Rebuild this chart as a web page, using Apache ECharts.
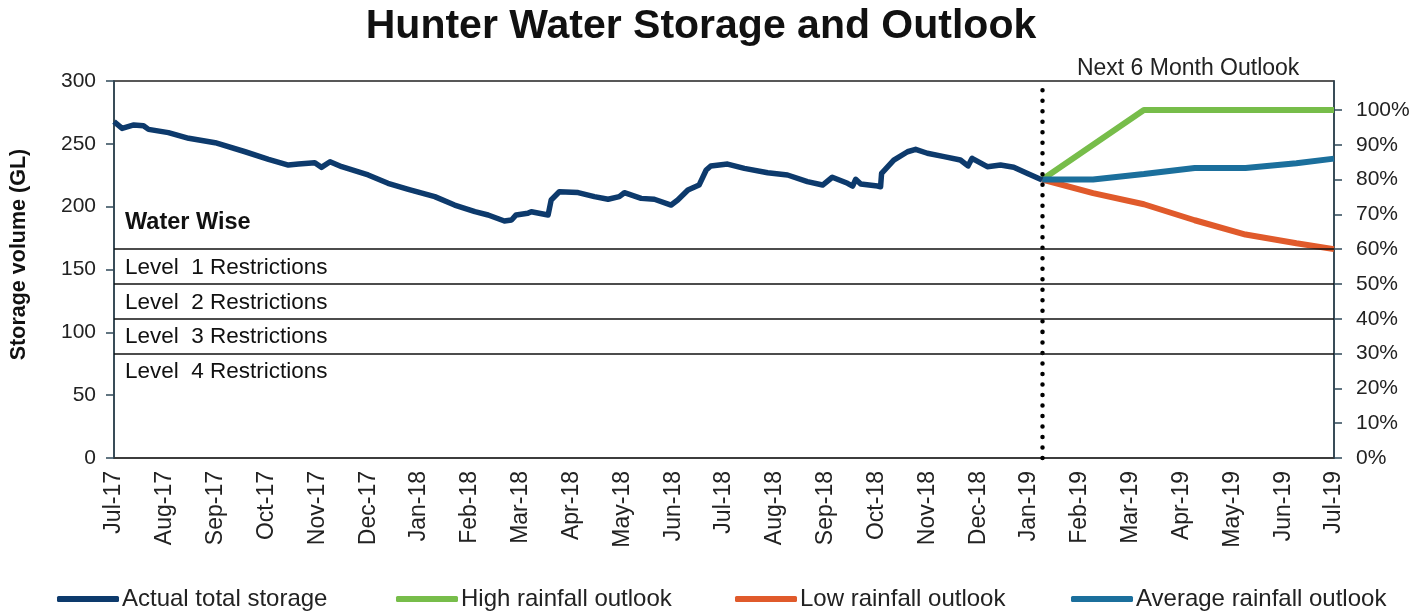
<!DOCTYPE html>
<html>
<head>
<meta charset="utf-8">
<script src="https://cdn.jsdelivr.net/npm/echarts@6/dist/echarts.min.js"></script>
<style>
html,body{margin:0;padding:0;background:#fff;}
#chart{width:1418px;height:612px;}
</style>
</head>
<body>
<div id="chart"></div>
<script>
// ---------- data ----------
const monthLabels = ['Jul-17','Aug-17','Sep-17','Oct-17','Nov-17','Dec-17','Jan-18','Feb-18','Mar-18','Apr-18','May-18','Jun-18',
  'Jul-18','Aug-18','Sep-18','Oct-18','Nov-18','Dec-18','Jan-19','Feb-19','Mar-19','Apr-19','May-19','Jun-19','Jul-19'];

// months elapsed since Jul-17
const actualMonths = [0.00,0.16,0.39,0.58,0.68,1.07,1.47,1.99,2.58,3.04,3.43,3.63,3.95,4.08,4.25,4.48,5.00,5.39,5.79,6.31,
  6.70,7.10,7.36,7.68,7.82,7.91,8.14,8.21,8.54,8.60,8.76,9.13,9.45,9.72,9.94,10.04,10.37,10.63,10.96,11.09,11.29,11.51,11.65,
  11.74,12.07,12.40,12.86,13.25,13.64,13.94,14.13,14.43,14.53,14.59,14.69,15.02,15.08,15.10,15.34,15.61,15.77,16.00,16.33,
  16.65,16.80,16.88,17.18,17.44,17.70,17.96,18.26];
// storage in GL
const actualGL = [267.6,262.3,265.0,264.4,261.5,258.9,254.4,250.9,243.7,237.7,233.1,233.9,235.0,231.3,235.8,231.8,225.2,218.6,213.8,208.0,
  201.3,196.0,193.4,188.6,189.4,193.4,194.7,196.0,193.4,205.3,211.9,211.2,208.0,205.9,208.0,211.1,206.6,205.9,201.3,205.3,213.3,217.2,229.2,
  232.4,233.9,230.5,227.0,225.2,219.9,217.2,223.4,218.6,216.4,221.8,218.0,216.4,215.9,226.5,237.1,243.7,245.6,242.5,239.8,
  237.1,232.4,238.5,231.8,233.1,231.3,226.5,221.2];

const outlookMonths = [18.26,19.26,20.26,21.26,22.26,23.26,24];
const highPct = [80,90,100,100,100,100,100];
const lowPct  = [80,76.1,72.9,68.3,64.2,61.7,60];
const avgPct  = [80,80,81.6,83.3,83.3,84.7,86];

const capacityGL = 277;            // 100% storage
const outlookStart = 18.26;        // Next 6 month outlook start
const levelLines = [60,50,40,30];  // % thresholds
const bandLabels = ['Water Wise','Level  1 Restrictions','Level  2 Restrictions','Level  3 Restrictions','Level  4 Restrictions'];
const bandRanges = [[60,70],[50,60],[40,50],[30,40],[20,30]];
const rightTicks = [0,10,20,30,40,50,60,70,80,90,100];

const seriesNames = ['Actual total storage','High rainfall outlook','Low rainfall outlook','Average rainfall outlook'];
const colors = ['#0d3a6c','#77bd4a','#e05a2b','#1b6f9c'];

// ---------- chart ----------
const FONT = 'Liberation Sans, Arial, sans-serif';
const TXT = '#222';
const chart = echarts.init(document.getElementById('chart'), null, {renderer:'canvas'});

const zip = (xs, ys) => xs.map((x,i)=>[x, ys[i]]);
const pctMax = 300 / capacityGL * 100;
const legendLefts = [52, 391, 730, 1066];

const option = {
  animation:false,
  backgroundColor:'#fff',
  title:{
    text:'Hunter Water Storage and Outlook',
    left:696, top:1, textAlign:'center',
    textStyle:{fontFamily:FONT, fontSize:41, fontWeight:'bold', color:'#111'}
  },
  legend:seriesNames.map((n,i) => ({
    data:[n],
    left:legendLefts[i], top:582,
    icon:'roundRect', itemWidth:62, itemHeight:6, itemGap:0,
    textStyle:{fontFamily:FONT, fontSize:24, color:TXT, padding:[0,0,0,-2]}
  })),
  grid:{left:112, right:84, top:81, bottom:154, show:true, borderColor:'#222', borderWidth:1.5, backgroundColor:'transparent'},
  xAxis:{
    type:'value', min:0, max:24, interval:1,
    axisLine:{show:true, lineStyle:{color:'#333', width:1.5}},
    axisTick:{show:false},
    splitLine:{show:false},
    axisLabel:{rotate:90, margin:13, fontFamily:FONT, fontSize:23, color:TXT,
      formatter:v => monthLabels[v] || ''}
  },
  yAxis:[{
    type:'value', min:0, max:300, interval:50, position:'left',
    name:'Storage volume (GL)', nameLocation:'middle', nameGap:84,
    nameTextStyle:{fontFamily:FONT, fontSize:21.5, fontWeight:'bold', color:'#111', padding:[0,0,0,30]},
    axisLine:{show:true, lineStyle:{color:'#2f4858', width:1.5}},
    axisTick:{show:true, length:8, lineStyle:{color:'#2f4858', width:1.5}},
    splitLine:{show:false},
    axisLabel:{margin:18, fontFamily:FONT, fontSize:21, color:TXT}
  },{
    type:'value', min:0, max:pctMax, interval:10, position:'right',
    axisLine:{show:true, lineStyle:{color:'#2f4858', width:1.5}},
    axisTick:{show:true, length:8, customValues:rightTicks, lineStyle:{color:'#2f4858', width:1.5}},
    splitLine:{show:false},
    axisLabel:{margin:22, fontFamily:FONT, fontSize:21, color:TXT, customValues:rightTicks,
      formatter:v => v > 100.5 ? '' : Math.round(v) + '%'}
  }],
  series:[{
    name:seriesNames[0], type:'line', yAxisIndex:0, data:zip(actualMonths, actualGL),
    showSymbol:false, symbol:'none', lineStyle:{width:5.5, color:colors[0], join:'round'}, itemStyle:{color:colors[0]}, z:5,
    markLine:{
      silent:true, symbol:'none', label:{show:false},
      lineStyle:{color:'#000', width:4.5, type:[0.01, 10.5], cap:'round'},
      data:[{xAxis:outlookStart}]
    }
  },{
    name:seriesNames[1], type:'line', yAxisIndex:1, data:zip(outlookMonths, highPct),
    showSymbol:false, symbol:'none', lineStyle:{width:6, color:colors[1]}, itemStyle:{color:colors[1]}, z:4
  },{
    name:seriesNames[2], type:'line', yAxisIndex:1, data:zip(outlookMonths, lowPct),
    showSymbol:false, symbol:'none', lineStyle:{width:6, color:colors[2]}, itemStyle:{color:colors[2]}, z:4,
    markLine:{
      silent:true, symbol:'none', label:{show:false},
      lineStyle:{color:'#111', width:1.5, type:'solid'},
      data:levelLines.map(v => ({yAxis:v}))
    },
    markArea:{
      silent:true,
      itemStyle:{color:'rgba(0,0,0,0)'},
      data:bandLabels.map((t,i) => [{
        yAxis:bandRanges[i][0], xAxis:0, name:t,
        label:{show:true, position:'insideLeft', distance:11, offset:[0, i===0 ? -9 : 1],
          fontFamily:FONT, fontSize:i===0?23.5:22.5, fontWeight:i===0?'bold':'normal', color:'#111'}
      },{yAxis:bandRanges[i][1], xAxis:outlookStart - 0.5}])
    }
  },{
    name:seriesNames[3], type:'line', yAxisIndex:1, data:zip(outlookMonths, avgPct),
    showSymbol:false, symbol:'none', lineStyle:{width:6, color:colors[3]}, itemStyle:{color:colors[3]}, z:4,
    markArea:{
      silent:true,
      itemStyle:{color:'rgba(0,0,0,0)'},
      label:{show:true, position:'top', distance:1, fontFamily:FONT, fontSize:23, color:TXT},
      data:[[{xAxis:outlookStart, name:'Next 6 Month Outlook'},{xAxis:24}]]
    }
  }]
};
chart.setOption(option);
</script>
</body>
</html>
